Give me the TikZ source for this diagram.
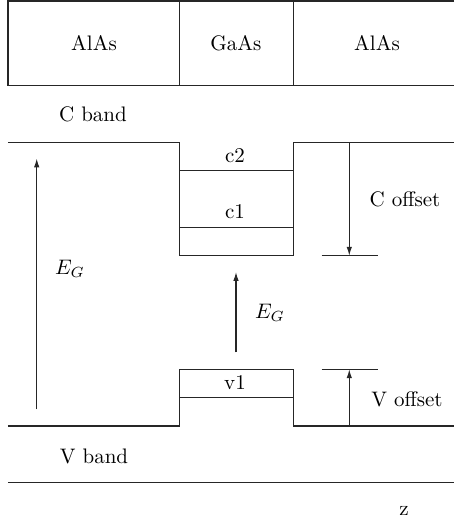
\documentclass[tikz,border=0pt]{standalone}
\usetikzlibrary{arrows.meta}
\begin{document}
\begin{tikzpicture}[x=0.476pt,y=-0.476pt,
  band/.style={line width=0.55pt,draw=black!85},
  arr/.style={band,-{Latex[length=4.2pt,width=2.6pt]}},
  lbl/.style={inner sep=0pt,font=\normalsize}]
\useasboundingbox (0,0) rectangle (454,523);
% layer box
\draw[band] (454,1) -- (8,1) -- (8,85.5) -- (454,85.5);
\draw[band] (179.3,1) -- (179.3,85.5);
\draw[band] (293.3,1) -- (293.3,85.5);
\node[lbl] (al1) at (94,43) {AlAs};
\node[lbl] (ga) at (236,43) {GaAs};
\node[lbl] (al2) at (377,43) {AlAs};
\node[lbl] (cband) at (93,114) {C band};
% conduction band
\draw[band] (8,142.3) -- (179.3,142.3) -- (179.3,255.7) -- (293.3,255.7) -- (293.3,142.3) -- (454,142.3);
\draw[band] (179.3,170.3) -- (293.3,170.3);
\draw[band] (179.3,227.3) -- (293.3,227.3);
\node[lbl] (c2) at (235,155.5) {c2};
\node[lbl] (c1) at (235,211.5) {c1};
% C offset
\coordinate (cotop) at (349.3,142.3);
\coordinate (cobot) at (349.3,255.7);
\coordinate (col) at (321.7,255.7);
\coordinate (cor) at (378.3,255.7);
\draw[arr] (cotop) -- (cobot);
\draw[band] (col) -- (cor);
\node[lbl] (coff) at (405,199) {C offset};
% E_G arrows
\coordinate (eg1a) at (36.7,409.3);
\coordinate (eg1b) at (36.7,158.5);
\draw[arr] (eg1a) -- (eg1b);
\node[lbl] (eg1) at (70,269) {$E_G$};
\coordinate (eg2a) at (236,352.3);
\coordinate (eg2b) at (236,272);
\draw[arr] (eg2a) -- (eg2b);
\node[lbl] (eg2) at (270,313) {$E_G$};
% valence band
\draw[band] (8,426) -- (179.3,426) -- (179.3,369.3) -- (293.3,369.3) -- (293.3,426) -- (454,426);
\draw[band] (179.3,397.7) -- (293.3,397.7);
\node[lbl] (v1) at (235,383) {v1};
% V offset
\coordinate (vobot) at (349.3,426);
\coordinate (votop) at (349.3,369.3);
\coordinate (vol) at (321.7,369.3);
\coordinate (vor) at (378.3,369.3);
\draw[arr] (vobot) -- (votop);
\draw[band] (vol) -- (vor);
\node[lbl] (voff) at (407,399.5) {V offset};
\node[lbl] (vband) at (94,456) {V band};
% z axis
\draw[band] (8,482.7) -- (454,482.7);
\node[lbl] (z) at (404,511) {z};
\end{tikzpicture}
\end{document}
